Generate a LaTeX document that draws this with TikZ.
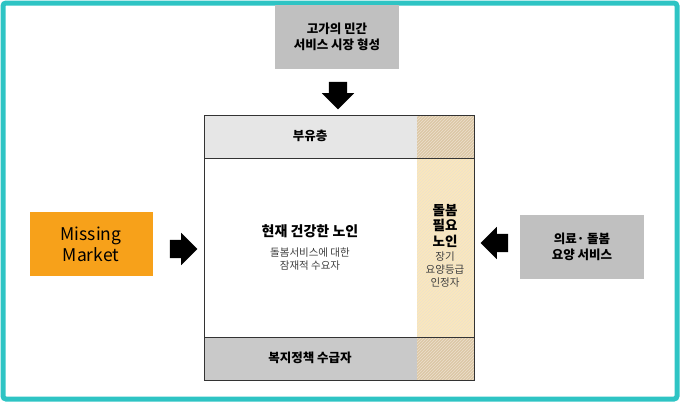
\documentclass[tikz,border=0pt]{standalone}
\usepackage{fontspec}
\setmainfont{Noto Sans CJK KR}
\usetikzlibrary{positioning, shapes.arrows, patterns}

\definecolor{frame}{HTML}{2EC4C4}
\definecolor{boxgrey}{HTML}{C0C0C0}
\definecolor{bandlight}{HTML}{E6E6E6}
\definecolor{banddark}{HTML}{C9C9C9}
\definecolor{tan}{HTML}{FBE8BC}
\definecolor{tandark}{HTML}{DCC7A6}
\definecolor{orange}{HTML}{F7A11A}

\tikzset{
  greybox/.style={fill=boxgrey, minimum width=124pt, minimum height=64pt, align=center, font=\bfseries\fontsize{12.5}{16}\selectfont},
  bigarrow/.style={single arrow, fill=black, minimum height=27pt, inner sep=9pt, single arrow head extend=7pt},
  band/.style={draw=black!80, line width=0.8pt}
}

\begin{document}
\begin{tikzpicture}[x=1pt, y=-1pt]
        \useasboundingbox (0,0) rectangle (680,402);
        \draw[frame, line width=5pt, rounded corners=3pt] (3,3) rectangle (677,399);

        % main block
        \fill[white] (204,115) rectangle (474,380);
        \fill[bandlight] (204,115) rectangle (417,158);
        \fill[banddark] (204,337) rectangle (417,380);
        \fill[tan] (417,158) rectangle (474,337);
        \fill[tandark] (417,115) rectangle (474,158);
        \fill[tandark] (417,337) rectangle (474,380);
        \fill[pattern=north east lines, pattern color=white!45!tandark] (417,115) rectangle (474,380);
        \draw[band] (204,115) rectangle (474,380);
        \draw[band] (204,158) -- (474,158);
        \draw[band] (204,337) -- (474,337);

        \node (rich) at (310,136) {\bfseries\fontsize{12.5}{15}\selectfont 부유층};
        \node (welfare) at (310,358) {\bfseries\fontsize{12.5}{15}\selectfont 복지정책 수급자};
        \node (healthy) at (310,231) {\bfseries\fontsize{14}{16}\selectfont 현재 건강한 노인};
        \node (potential) [below=3pt of healthy, align=center, text=black!75, font=\fontsize{10.5}{13}\selectfont] {돌봄서비스에 대한\\잠재적 수요자};
        \node (care) at (445,226) [align=center, font=\bfseries\fontsize{13.5}{16}\selectfont] {돌봄\\필요\\노인};
        \node (ltc) [below=-3pt of care, align=center, text=black!75, font=\fontsize{10.5}{13}\selectfont] {장기\\요양등급\\인정자};

        % outer boxes
        \node (private) [greybox] at (337,37) {고가의 민간\\서비스 시장 형성};
        \node (missing) [fill=orange, minimum width=123pt, minimum height=64pt, align=center,
                font=\fontsize{17.5}{21}\selectfont] at (91,244) {Missing\\Market};
        \node (medical) [greybox] at (582,247) {의료· 돌봄\\요양 서비스};

        % arrows
        \node (down) [bigarrow, shape border rotate=270] at (338,91) {};
        \node (right) [bigarrow] at (179,249) {};
        \node (left) [bigarrow, shape border rotate=180] at (499,243) {};
\end{tikzpicture}
\end{document}
